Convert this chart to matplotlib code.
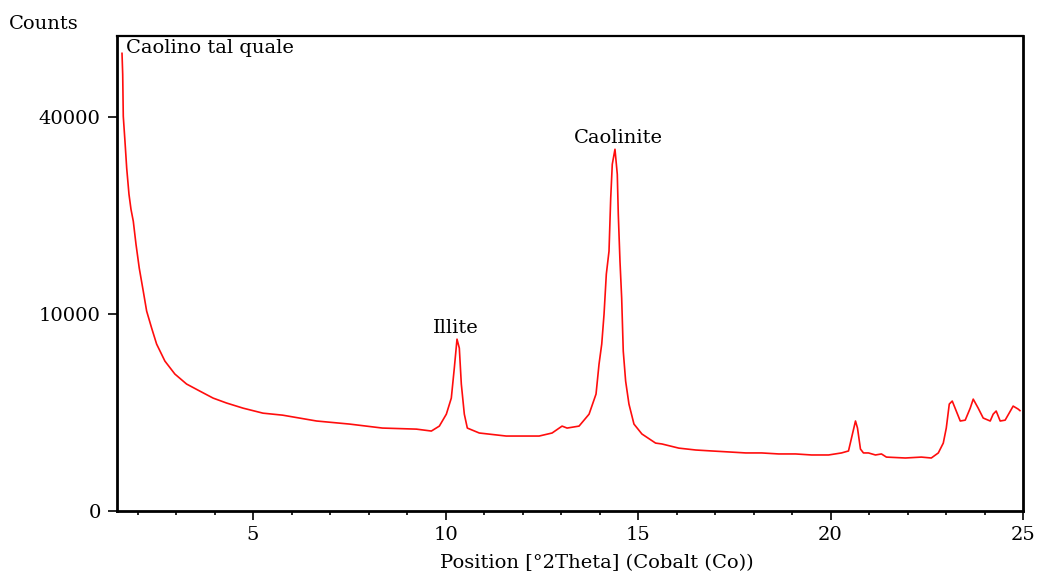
import numpy as np
import matplotlib
matplotlib.use("Agg")
import matplotlib.pyplot as plt
from matplotlib.ticker import MultipleLocator, FixedLocator

# =========================
# DATA
# =========================
two_theta = [
    1.597, 1.615, 1.630, 1.674, 1.719, 1.778, 1.830, 1.890, 1.960, 2.045,
    2.149, 2.237, 2.367, 2.496, 2.711, 2.970, 3.274, 3.618, 3.963, 4.311,
    4.741, 5.259, 5.770, 6.651, 7.506, 8.362, 9.243, 9.632, 9.839, 10.021,
    10.150, 10.228, 10.298, 10.358, 10.410, 10.488, 10.566, 10.876, 11.576, 12.431,
    12.768, 13.027, 13.157, 13.468, 13.728, 13.909, 13.987, 14.057, 14.117, 14.176,
    14.246, 14.290, 14.331, 14.401, 14.461, 14.487, 14.531, 14.575, 14.616, 14.678,
    14.764, 14.894, 15.101, 15.456, 15.619, 16.060, 16.500, 16.915, 17.356, 17.797,
    18.211, 18.652, 19.092, 19.507, 19.948, 20.285, 20.466, 20.544, 20.648, 20.700,
    20.777, 20.855, 20.985, 21.166, 21.322, 21.451, 21.944, 22.358, 22.617, 22.799,
    22.928, 23.006, 23.084, 23.161, 23.265, 23.369, 23.498, 23.628, 23.706, 23.835,
    23.965, 24.147, 24.224, 24.302, 24.406, 24.535, 24.743, 24.873, 24.920,
]
counts = [
    54050, 49200, 40200, 35270, 30310, 25890, 23500, 21670, 18370, 15220,
    12470, 10310, 8630, 7190, 5800, 4840, 4160, 3710, 3290, 3010,
    2730, 2470, 2370, 2090, 1950, 1775, 1730, 1650, 1860, 2420,
    3290, 5270, 7620, 6850, 4160, 2420, 1775, 1570, 1450, 1450,
    1570, 1860, 1775, 1860, 2420, 3530, 5570, 7190, 10000, 14470,
    17420, 25240, 31030, 33770, 29260, 22730, 16100, 11690, 6600, 4350,
    2950, 1950, 1530, 1190, 1160, 1020, 960, 930, 900, 870,
    870, 840, 840, 810, 810, 870, 930, 1370, 2090, 1775,
    990, 870, 870, 810, 840, 750, 725, 750, 725, 870,
    1190, 1775, 2950, 3120, 2580, 2090, 2130, 2730, 3230, 2730,
    2230, 2090, 2420, 2580, 2090, 2130, 2840, 2680, 2600,
]

sample_name = "Caolino tal quale"
peak_names = ["Illite", "Caolinite"]
peak_pos = [10.298, 14.401]
peak_counts = [7620, 33770]
label_dx = [-1, 2.5]  # points, horizontal nudge of each peak label

x_ticks = [5, 10, 15, 20, 25]
y_ticks = [0, 10000, 40000]

FS = 14
plt.rcParams["font.family"] = ["DejaVu Serif"]
plt.rcParams["font.size"] = FS

fig = plt.figure(figsize=(10.4, 5.73), dpi=100)
ax = fig.add_axes([0.1128, 0.1082, 0.8709, 0.8295])

ax.plot(two_theta, counts, color="#ff0d0d", lw=1.2)

# square-root intensity axis, like the original software
ax.set_yscale("function", functions=(lambda v: np.sqrt(np.clip(v, 0, None)),
                                     lambda v: np.square(v)))
ax.set_xlim(1.475, 25)
ax.set_ylim(0, 58300)

ax.xaxis.set_major_locator(FixedLocator(x_ticks))
ax.xaxis.set_minor_locator(MultipleLocator(1))
ax.yaxis.set_major_locator(FixedLocator(y_ticks))
ax.yaxis.set_minor_locator(FixedLocator([]))
ax.set_xticklabels([str(t) for t in x_ticks])
ax.set_yticklabels([str(t) for t in y_ticks])

ax.tick_params(axis="both", which="major", direction="out", length=6.5,
               width=1.2, labelsize=FS, colors="black")
ax.tick_params(axis="x", which="minor", direction="out", length=3, width=1.2)
ax.tick_params(axis="y", which="major", pad=5.5)
ax.tick_params(axis="x", which="major", pad=4)

for side in ["left", "bottom", "right", "top"]:
    ax.spines[side].set_linewidth(2)
ax.spines["top"].set_linewidth(1.6)

# peak labels
for name, px, py, dx in zip(peak_names, peak_pos, peak_counts, label_dx):
    ax.annotate(name, xy=(px, py), xytext=(dx, 4.5), textcoords="offset points",
                ha="center", va="baseline", fontsize=FS)

ax.text(0.0096, 0.9636, sample_name, transform=ax.transAxes, ha="left",
        va="baseline", fontsize=FS)
fig.text(9 / 1040, 1 - 29 / 573, "Counts", ha="left", va="baseline", fontsize=FS)
fig.text(596.5 / 1040, 1 - 568 / 573, "Position [°2Theta] (Cobalt (Co))",
         ha="center", va="baseline", fontsize=FS)

fig.savefig("out.png", dpi=100)
